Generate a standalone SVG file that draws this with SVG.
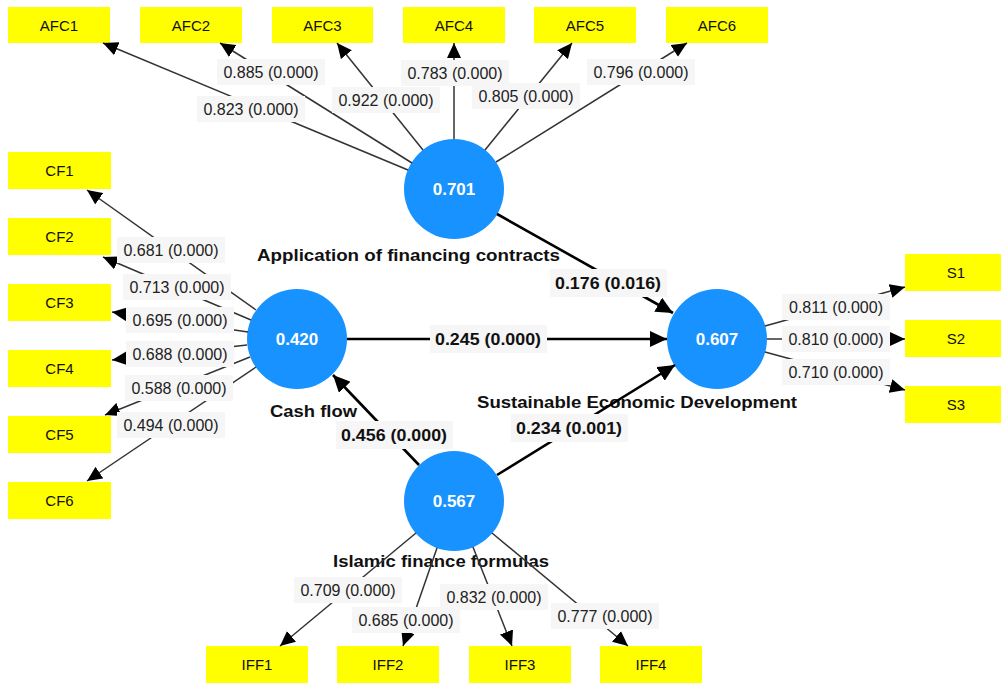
<svg xmlns="http://www.w3.org/2000/svg" width="1001" height="683" viewBox="0 0 1001 683">
<style>
.box{fill:#ffff00}
.bt{font-family:"Liberation Sans",Arial,sans-serif;font-size:15px;fill:#111;text-anchor:middle}
.lv{fill:#1792ff}
.lvt{font-family:"Liberation Sans",Arial,sans-serif;font-size:17px;font-weight:bold;fill:#fff;text-anchor:middle}
.nm{font-family:"Liberation Sans",Arial,sans-serif;font-size:17px;font-weight:bold;fill:#111;text-anchor:middle}
.ol{stroke:#333;stroke-width:1.5;fill:none;marker-end:url(#ah)}
.sl{stroke:#000;stroke-width:2.6;fill:none;marker-end:url(#ahb)}
.lb{fill:#f6f6f6}
.lt{font-family:"Liberation Sans",Arial,sans-serif;font-size:16px;fill:#222;text-anchor:middle}
.ltb{font-family:"Liberation Sans",Arial,sans-serif;font-size:17px;font-weight:bold;fill:#111;text-anchor:middle}
</style>
<defs>
<marker id="ah" markerUnits="userSpaceOnUse" markerWidth="16" markerHeight="14" refX="15" refY="7" orient="auto"><path d="M0,0 L15,7 L0,14 z" fill="#000"/></marker>
<marker id="ahb" markerUnits="userSpaceOnUse" markerWidth="18" markerHeight="16" refX="17" refY="8" orient="auto"><path d="M0,0 L17,8 L0,16 z" fill="#000"/></marker>
</defs>
<rect width="1001" height="683" fill="#fff"/>

<g id="AFC1"><rect class="box" x="8" y="7" width="102" height="36"/><text class="bt" x="59" y="31">AFC1</text></g>
<g id="AFC2"><rect class="box" x="140" y="7" width="102" height="36"/><text class="bt" x="191" y="31">AFC2</text></g>
<g id="AFC3"><rect class="box" x="272" y="7" width="101" height="36"/><text class="bt" x="322.5" y="31">AFC3</text></g>
<g id="AFC4"><rect class="box" x="403" y="7" width="102" height="36"/><text class="bt" x="454" y="31">AFC4</text></g>
<g id="AFC5"><rect class="box" x="534" y="7" width="102" height="36"/><text class="bt" x="585" y="31">AFC5</text></g>
<g id="AFC6"><rect class="box" x="666" y="7" width="102" height="36"/><text class="bt" x="717" y="31">AFC6</text></g>

<g id="CF1"><rect class="box" x="8" y="152" width="103" height="37"/><text class="bt" x="59.5" y="176">CF1</text></g>
<g id="CF2"><rect class="box" x="8" y="218" width="103" height="37"/><text class="bt" x="59.5" y="242">CF2</text></g>
<g id="CF3"><rect class="box" x="8" y="284" width="103" height="37"/><text class="bt" x="59.5" y="308">CF3</text></g>
<g id="CF4"><rect class="box" x="8" y="350" width="103" height="37"/><text class="bt" x="59.5" y="374">CF4</text></g>
<g id="CF5"><rect class="box" x="8" y="416" width="103" height="37"/><text class="bt" x="59.5" y="440">CF5</text></g>
<g id="CF6"><rect class="box" x="8" y="482" width="103" height="37"/><text class="bt" x="59.5" y="506">CF6</text></g>

<g id="S1"><rect class="box" x="905" y="254" width="102" height="37"/><text class="bt" x="956" y="278">S1</text></g>
<g id="S2"><rect class="box" x="905" y="320" width="102" height="37"/><text class="bt" x="956" y="344">S2</text></g>
<g id="S3"><rect class="box" x="905" y="386" width="102" height="37"/><text class="bt" x="956" y="410">S3</text></g>

<g id="IFF1"><rect class="box" x="206" y="646" width="102" height="37"/><text class="bt" x="257" y="670">IFF1</text></g>
<g id="IFF2"><rect class="box" x="337" y="646" width="102" height="37"/><text class="bt" x="388" y="670">IFF2</text></g>
<g id="IFF3"><rect class="box" x="469" y="646" width="102" height="37"/><text class="bt" x="520" y="670">IFF3</text></g>
<g id="IFF4"><rect class="box" x="600" y="646" width="102" height="37"/><text class="bt" x="651" y="670">IFF4</text></g>

<g id="AFC"><circle class="lv" cx="454" cy="189" r="50"/><text class="lvt" x="454" y="195">0.701</text><text class="nm" x="408.5" y="261" textLength="303" lengthAdjust="spacingAndGlyphs">Application of financing contracts</text></g>
<g id="CF"><circle class="lv" cx="297" cy="339" r="50"/><text class="lvt" x="297" y="345">0.420</text><text class="nm" x="313.5" y="417" textLength="87" lengthAdjust="spacingAndGlyphs">Cash flow</text></g>
<g id="SED"><circle class="lv" cx="717" cy="339" r="50"/><text class="lvt" x="717" y="345">0.607</text><text class="nm" x="637" y="408" textLength="320" lengthAdjust="spacingAndGlyphs">Sustainable Economic Development</text></g>
<g id="IFF"><circle class="lv" cx="454" cy="501" r="50"/><text class="lvt" x="454" y="507">0.567</text><text class="nm" x="441" y="567" textLength="216" lengthAdjust="spacingAndGlyphs">Islamic finance formulas</text></g>

<g id="connectors">
<line class="ol" x1="408" y1="170" x2="103" y2="43"/>
<line class="ol" x1="412" y1="163" x2="220" y2="43"/>
<line class="ol" x1="423" y1="150" x2="337" y2="43"/>
<line class="ol" x1="454" y1="139" x2="454" y2="43"/>
<line class="ol" x1="485" y1="150" x2="572" y2="43"/>
<line class="ol" x1="496" y1="162" x2="687" y2="43"/>

<line class="ol" x1="256" y1="310" x2="87" y2="190"/>
<line class="ol" x1="251" y1="320" x2="103" y2="257"/>
<line class="ol" x1="248" y1="332" x2="112" y2="312"/>
<line class="ol" x1="247" y1="345" x2="112" y2="360"/>
<line class="ol" x1="250" y1="357" x2="105" y2="415"/>
<line class="ol" x1="256" y1="367" x2="87" y2="481"/>

<line class="ol" x1="765" y1="326" x2="905" y2="287"/>
<line class="ol" x1="767" y1="339" x2="905" y2="339"/>
<line class="ol" x1="765" y1="352" x2="905" y2="390"/>

<line class="ol" x1="416" y1="533" x2="280" y2="646"/>
<line class="ol" x1="437" y1="548" x2="403" y2="646"/>
<line class="ol" x1="473" y1="547" x2="512" y2="646"/>
<line class="ol" x1="492" y1="533" x2="628" y2="646"/>

<line class="sl" x1="497" y1="214" x2="673" y2="313"/>
<line class="sl" x1="347" y1="339" x2="667" y2="339"/>
<line class="sl" x1="497" y1="475" x2="675" y2="365"/>
<line class="sl" x1="419" y1="465" x2="333" y2="375"/>

<g id="labels">
<rect class="lb" x="197" y="96" width="108" height="26"/><text class="lt" x="251" y="114.5">0.823 (0.000)</text>
<rect class="lb" x="217" y="59" width="108" height="26"/><text class="lt" x="271" y="77.5">0.885 (0.000)</text>
<rect class="lb" x="332" y="87" width="108" height="26"/><text class="lt" x="386" y="105.5">0.922 (0.000)</text>
<rect class="lb" x="401" y="60" width="108" height="26"/><text class="lt" x="455" y="78.5">0.783 (0.000)</text>
<rect class="lb" x="472" y="83" width="108" height="26"/><text class="lt" x="526" y="101.5">0.805 (0.000)</text>
<rect class="lb" x="587" y="59" width="108" height="26"/><text class="lt" x="641" y="77.5">0.796 (0.000)</text>

<rect class="lb" x="117" y="237" width="108" height="26"/><text class="lt" x="171" y="255.5">0.681 (0.000)</text>
<rect class="lb" x="123" y="274" width="108" height="26"/><text class="lt" x="177" y="292.5">0.713 (0.000)</text>
<rect class="lb" x="126" y="307" width="108" height="26"/><text class="lt" x="180" y="325.5">0.695 (0.000)</text>
<rect class="lb" x="126" y="341" width="108" height="26"/><text class="lt" x="180" y="359.5">0.688 (0.000)</text>
<rect class="lb" x="125" y="375" width="108" height="26"/><text class="lt" x="179" y="393.5">0.588 (0.000)</text>
<rect class="lb" x="117" y="412" width="108" height="26"/><text class="lt" x="171" y="430.5">0.494 (0.000)</text>

<rect class="lb" x="782" y="294" width="108" height="26"/><text class="lt" x="836" y="312.5">0.811 (0.000)</text>
<rect class="lb" x="782" y="326" width="108" height="26"/><text class="lt" x="836" y="344.5">0.810 (0.000)</text>
<rect class="lb" x="782" y="359" width="108" height="26"/><text class="lt" x="836" y="377.5">0.710 (0.000)</text>

<rect class="lb" x="294" y="577" width="108" height="26"/><text class="lt" x="348" y="595.5">0.709 (0.000)</text>
<rect class="lb" x="352" y="607" width="108" height="26"/><text class="lt" x="406" y="625.5">0.685 (0.000)</text>
<rect class="lb" x="440" y="584" width="108" height="26"/><text class="lt" x="494" y="602.5">0.832 (0.000)</text>
<rect class="lb" x="551" y="603" width="108" height="26"/><text class="lt" x="605" y="621.5">0.777 (0.000)</text>

<rect class="lb" x="550" y="269" width="117" height="28"/><text class="ltb" x="608" y="289" textLength="106" lengthAdjust="spacingAndGlyphs">0.176 (0.016)</text>
<rect class="lb" x="430" y="325" width="117" height="28"/><text class="ltb" x="488" y="345" textLength="106" lengthAdjust="spacingAndGlyphs">0.245 (0.000)</text>
<rect class="lb" x="511" y="414" width="117" height="28"/><text class="ltb" x="569" y="434" textLength="106" lengthAdjust="spacingAndGlyphs">0.234 (0.001)</text>
<rect class="lb" x="336" y="421" width="117" height="28"/><text class="ltb" x="394" y="441" textLength="106" lengthAdjust="spacingAndGlyphs">0.456 (0.000)</text>
</g>
</g>
</svg>
